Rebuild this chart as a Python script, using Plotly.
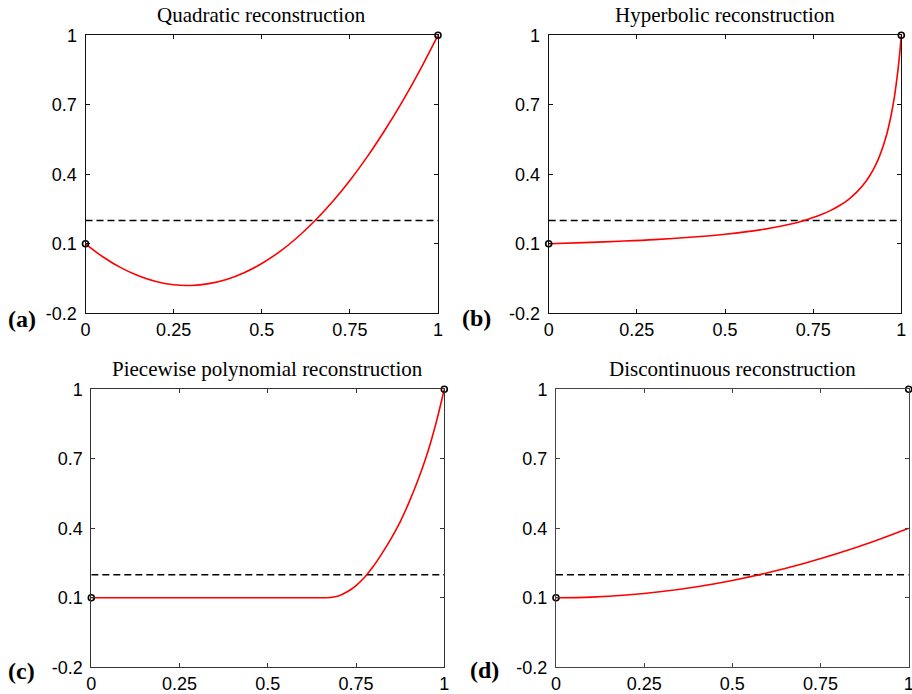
import plotly.graph_objects as go

# ---------------- data ----------------
x_ticks = [0, 0.25, 0.5, 0.75, 1]
x_tick_labels = ["0", "0.25", "0.5", "0.75", "1"]
y_ticks = [-0.2, 0.1, 0.4, 0.7, 1]
y_tick_labels = ["-0.2", "0.1", "0.4", "0.7", "1"]
threshold = 0.2

titles = ["Quadratic reconstruction", "Hyperbolic reconstruction",
          "Piecewise polynomial reconstruction", "Discontinuous reconstruction"]
panel_labels = ["(a)", "(b)", "(c)", "(d)"]

# (a) quadratic
xa = [0, 0.05, 0.1, 0.15, 0.2, 0.25, 0.3, 0.35, 0.4, 0.45, 0.5, 0.55, 0.6,
      0.65, 0.7, 0.75, 0.8, 0.85, 0.9, 0.95, 1.0]
ya = [0.100, 0.043, -0.003, -0.038, -0.063, -0.077, -0.080, -0.072, -0.054,
      -0.025, 0.015, 0.065, 0.126, 0.198, 0.280, 0.373, 0.477, 0.592, 0.717,
      0.853, 1.000]

# (b) hyperbolic
xb = [0, 0.1, 0.2, 0.3, 0.4, 0.5, 0.6, 0.7, 0.725, 0.75, 0.775, 0.8, 0.825,
      0.85, 0.875, 0.9, 0.9125, 0.925, 0.9375, 0.95, 0.96, 0.97, 0.98, 0.99,
      0.995, 1.0]
yb = [0.100, 0.105, 0.111, 0.118, 0.128, 0.141, 0.160, 0.190, 0.200, 0.213,
      0.227, 0.244, 0.265, 0.291, 0.325, 0.370, 0.399, 0.433, 0.475, 0.528,
      0.580, 0.646, 0.730, 0.843, 0.914, 1.000]

# (c) piecewise polynomial: flat piece, then polynomial piece
xc_flat = [0, 0.667]
yc_flat = [0.1, 0.1]
xc_rise = [0.667, 0.7, 0.725, 0.75, 0.775, 0.8, 0.825, 0.85, 0.875, 0.9,
           0.925, 0.95, 0.975, 1.0]
yc_rise = [0.100, 0.108, 0.126, 0.153, 0.190, 0.238, 0.295, 0.358, 0.428,
           0.512, 0.606, 0.714, 0.845, 1.000]

# (d) discontinuous
xd = [0, 0.1, 0.2, 0.3, 0.4, 0.5, 0.6, 0.7, 0.8, 0.9, 1.0]
yd = [0.100, 0.103, 0.112, 0.127, 0.148, 0.175, 0.208, 0.247, 0.292, 0.343,
      0.400]

# endpoint data (black circles)
end_x = [0, 1]
end_y = [0.1, 1.0]

curves = [[(xa, ya)], [(xb, yb)], [(xc_flat, yc_flat), (xc_rise, yc_rise)],
          [(xd, yd)]]

# ---------------- layout geometry (pixels) ----------------
W, H = 912, 694
panels_px = [  # left, right, top, bottom
    (85.5, 438.0, 35.2, 313.3),
    (548.7, 901.3, 35.2, 313.3),
    (91.3, 444.3, 389.3, 667.3),
    (556.0, 908.7, 389.3, 667.3),
]
title_pos_y = [15, 15, 369, 369]
label_pos = [(21.5, 319), (476.5, 318), (21, 671), (484, 670)]
axis_col = ["#111111", "#111111", "#333333", "#444444"]

fig = go.Figure()
layout_axes = {}
annotations = []

for i, (segs, (l, r, t, b)) in enumerate(zip(curves, panels_px)):
    n = "" if i == 0 else str(i + 1)
    xr, yr = "x" + n, "y" + n
    fig.add_trace(go.Scatter(x=[0, 1], y=[threshold, threshold], mode="lines",
                             line=dict(color="black", width=1.5, dash="7px,4px"),
                             xaxis=xr, yaxis=yr, showlegend=False, hoverinfo="skip"))
    for cx, cy in segs:
        fig.add_trace(go.Scatter(x=cx, y=cy, mode="lines",
                                 line=dict(color="#ff0000", width=1.6,
                                           shape="spline", smoothing=1.0),
                                 xaxis=xr, yaxis=yr, showlegend=False))
    fig.add_trace(go.Scatter(x=end_x, y=end_y, mode="markers",
                             marker=dict(symbol="circle-open", size=6,
                                         color="black", line=dict(width=1.6)),
                             cliponaxis=False,
                             xaxis=xr, yaxis=yr, showlegend=False))
    common = dict(showline=True, linecolor=axis_col[i], linewidth=1,
                  mirror="ticks", ticks="inside", ticklen=4, tickwidth=1,
                  tickcolor=axis_col[i], showgrid=False, zeroline=False,
                  automargin=False, ticklabeloverflow="allow",
                  tickfont=dict(family="Liberation Sans, Arial, sans-serif",
                                size=18, color="black"))
    layout_axes["xaxis" + n] = dict(common, domain=[l / W, r / W], range=[0, 1],
                                    tickvals=x_ticks, ticktext=x_tick_labels,
                                    anchor=yr, ticklabelstandoff=0)
    layout_axes["yaxis" + n] = dict(common, domain=[1 - b / H, 1 - t / H],
                                    range=[-0.2, 1], tickvals=y_ticks,
                                    ticktext=y_tick_labels, anchor=xr,
                                    ticklabelstandoff=4)
    annotations.append(dict(text=titles[i], x=(l + r) / 2 / W,
                            y=1 - title_pos_y[i] / H, xref="paper", yref="paper",
                            xanchor="center", yanchor="middle", showarrow=False,
                            font=dict(family="Liberation Serif, Times New Roman, serif",
                                      size=21, color="black")))
    lx, ly = label_pos[i]
    annotations.append(dict(text="<b>" + panel_labels[i] + "</b>", x=lx / W,
                            y=1 - ly / H, xref="paper", yref="paper",
                            xanchor="center", yanchor="middle", showarrow=False,
                            font=dict(family="Liberation Serif, Times New Roman, serif",
                                      size=24, color="black")))

fig.update_layout(width=W, height=H, margin=dict(l=0, r=0, t=0, b=0, autoexpand=False),
                  plot_bgcolor="white", paper_bgcolor="white",
                  annotations=annotations, **layout_axes)

fig.write_html("out.html", config={"displayModeBar": False},
               post_script="document.body.style.margin='0';"
                           "document.body.style.overflow='hidden';")
